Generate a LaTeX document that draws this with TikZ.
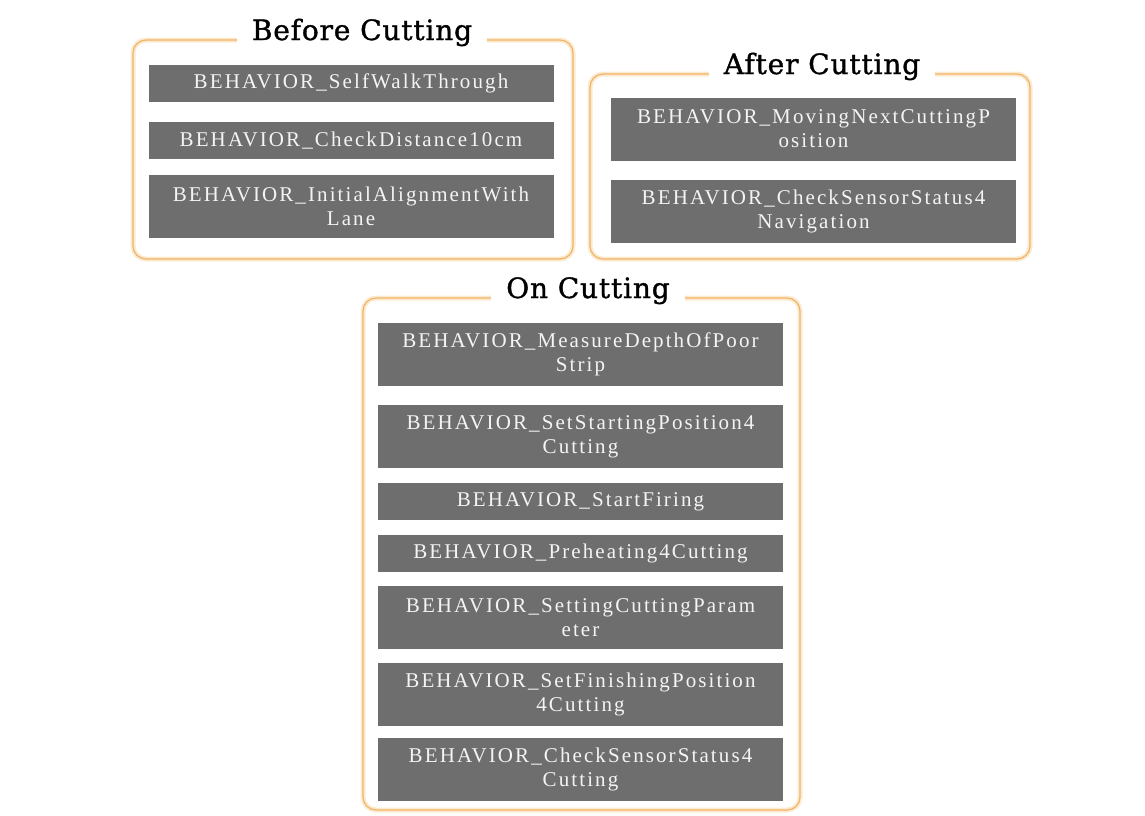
\documentclass[tikz,border=0pt]{standalone}
\usepackage{fontspec}
\newfontfamily\titlefont{DejaVu Serif}[FakeBold=1.2, LetterSpace=3]
\newfontfamily\boxfont{Liberation Serif}[LetterSpace=10]
\usepackage{tikz}
\usetikzlibrary{positioning}
\definecolor{frameOrange}{HTML}{F0B466}
\definecolor{glowOrange}{HTML}{FCEAD0}
\definecolor{boxGray}{HTML}{6E6E6E}
\definecolor{boxText}{HTML}{F4F4F4}
\tikzset{
    % Group frame - thin orange line with a soft glow
    groupframe/.style={
        draw=frameOrange,
        line width=1.2pt,
        rounded corners=13pt,
        preaction={draw=glowOrange, line width=5pt},
    },
    % Group title - sits on the frame line and breaks it
    grouptitle/.style={
        fill=white,
        anchor=base,
        inner xsep=15pt,
        inner ysep=5pt,
        text=black,
        font=\titlefont\fontsize{28}{32}\selectfont,
    },
    % Behavior boxes - flat gray bars
    behavior/.style={
        rectangle,
        fill=boxGray,
        text=boxText,
        align=center,
        inner sep=0pt,
        minimum width=405pt,
        minimum height=37pt,
        font=\boxfont\fontsize{21}{24}\selectfont,
    },
    % Two-line variant
    behavior two/.style={
        behavior,
        minimum height=63pt,
    },
}

\begin{document}
\begin{tikzpicture}[x=1pt, y=-1pt]
    \useasboundingbox (0,0) rectangle (1145,815);

    % frames
    \draw [groupframe] (133,40) rectangle (573,259);
    \draw [groupframe] (590,74) rectangle (1030,259);
    \draw [groupframe] (363,298) rectangle (800,810);

    \node (before) [grouptitle] at (362,40) {Before Cutting};
    \node (after) [grouptitle] at (822,74) {After Cutting};
    \node (oncut) [grouptitle] at (588,298) {On Cutting};

    % before cutting
    \node (bf1) [behavior] at (351,83) {BEHAVIOR\_SelfWalkThrough};
    \node (bf2) [behavior, below=20pt of bf1] {BEHAVIOR\_CheckDistance10cm};
    \node (bf3) [behavior two, below=16pt of bf2] {BEHAVIOR\_InitialAlignmentWith\\Lane};

    % after cutting
    \node (af1) [behavior two] at (813.5,129) {BEHAVIOR\_MovingNextCuttingP\\osition};
    \node (af2) [behavior two, below=19pt of af1] {BEHAVIOR\_CheckSensorStatus4\\Navigation};

    % on cutting
    \node (on1) [behavior two] at (580.5,354) {BEHAVIOR\_MeasureDepthOfPoor\\Strip};
    \node (on2) [behavior two, below=19pt of on1] {BEHAVIOR\_SetStartingPosition4\\Cutting};
    \node (on3) [behavior, below=15pt of on2] {BEHAVIOR\_StartFiring};
    \node (on4) [behavior, below=14pt of on3] {BEHAVIOR\_Preheating4Cutting};
    \node (on5) [behavior two, below=14pt of on4] {BEHAVIOR\_SettingCuttingParam\\eter};
    \node (on6) [behavior two, below=13pt of on5] {BEHAVIOR\_SetFinishingPosition\\4Cutting};
    \node (on7) [behavior two, below=12pt of on6] {BEHAVIOR\_CheckSensorStatus4\\Cutting};
\end{tikzpicture}
\end{document}
